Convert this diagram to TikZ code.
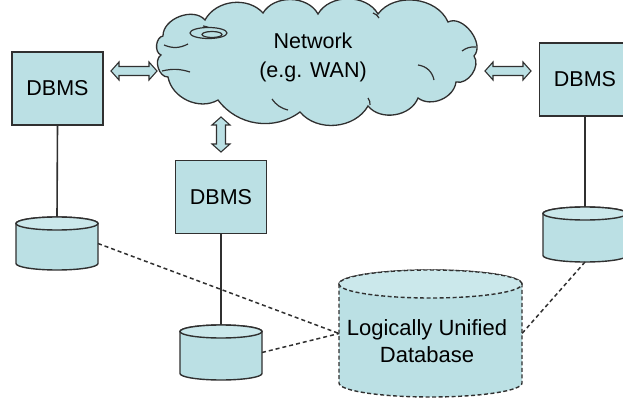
\documentclass[tikz,border=0pt]{standalone}
\usepackage{fontspec}
\setmainfont{Liberation Sans}
\definecolor{boxfill}{HTML}{BBE0E4}
\definecolor{cyltop}{HTML}{CBE8EB}
\definecolor{edge}{HTML}{303030}
\tikzset{
  dbmsbox/.style={draw=edge, line width=1.4pt, fill=boxfill, minimum width=91pt,
    minimum height=73pt, inner sep=0pt, font=\fontsize{21.5}{24}\selectfont},
  link/.style={draw=edge, line width=1.6pt},
  dashlink/.style={draw=edge, line width=1.5pt, dash pattern=on 4pt off 3pt},
  arrowbody/.style={draw=edge, line width=1.1pt, fill=boxfill, line join=miter},
  anchorbox/.style={inner sep=0pt, outer sep=0pt},
}
% cylinder: [style]{name}{cx}{cy}{x radius}{half height}{y radius}
\newcommand\dbcyl[7][]{%
  \node[anchorbox, minimum width={2*(#5)*1pt}, minimum height={2*(#6)*1pt}] (#2) at (#3,#4) {};
  \filldraw[draw=edge, line width=1.4pt, fill=boxfill, #1]
    (#3-#5,#4+#6-#7) -- (#3-#5,#4-#6+#7)
    arc[start angle=180, end angle=360, x radius=#5, y radius=#7]
    -- (#3+#5,#4+#6-#7) arc[start angle=0, end angle=180, x radius=#5, y radius=#7] -- cycle;
  \filldraw[draw=edge, line width=1.4pt, fill=cyltop, #1]
    (#3,#4+#6-#7) ellipse[x radius=#5, y radius=#7];
}
% block double arrow: {name}{cx}{cy}{half length}{rotation}
\newcommand\twoway[5]{%
  \node[anchorbox, minimum width={2*(#4)*1pt}, minimum height=18pt, rotate=#5] (#1) at (#2,#3) {};
  \begin{scope}[shift={(#2,#3)}, rotate=#5]
    \filldraw[arrowbody] (-#4,0) -- (-#4+8,9) -- (-#4+8,4.5) -- (#4-8,4.5) -- (#4-8,9)
      -- (#4,0) -- (#4-8,-9) -- (#4-8,-4.5) -- (-#4+8,-4.5) -- (-#4+8,-9) -- cycle;
  \end{scope}
}
\begin{document}
\begin{tikzpicture}[x=1pt, y=1pt]
\useasboundingbox (0,0) rectangle (623,-398);
\clip (0,0) rectangle (623,-398);

% network cloud
\filldraw[draw=edge, line width=1.3pt, fill=boxfill]
  (163,-36) to[bend left=70] (205,-20) to[bend left=55] (263,-13)
  to[bend left=60] (318,-14) to[bend left=60] (378,-14)
  to[bend left=60] (448,-22) to[bend left=80] (474,-56)
  to[bend left=70] (456,-82) to[bend left=60] (418,-98)
  to[bend left=60] (368,-106) to[bend left=55] (300,-112)
  to[bend left=45] (218,-100) to[bend left=55] (168,-77)
  to[bend left=75] (161,-55) to[bend left=75] cycle;
% creases inside the cloud
\begin{scope}[draw=edge, line width=1.2pt]
  \draw (164,-45) to[bend right=25] (188,-44);
  \draw (162,-71) to[bend left=15] (190,-72);
  \draw (203,-26) to[bend left=20] (213,-31);
  \draw (373,-13) to[bend left=20] (379,-18);
  \draw (418,-65) to[bend left=35] (434,-80);
  \draw (462,-51) to[bend left=20] (476,-47);
  \draw (272,-99) to[bend right=20] (288,-110);
  \draw (368,-98) to[bend left=20] (370,-105);
\end{scope}
\draw[edge, line width=1.2pt, fill=boxfill] (208.5,-33) ellipse[x radius=18.5, y radius=5.5];
\draw[edge, line width=1.2pt] (212,-34.5) ellipse[x radius=10, y radius=3];
\node[align=center, font=\fontsize{21.5}{29}\selectfont] (net) at (313,-57)
  {Network\\(e.g. WAN)};

% DBMS boxes
\node[dbmsbox] (b1) at (57.5,-88.5) {DBMS};
\node[dbmsbox] (b2) at (221,-197) {DBMS};
\node[dbmsbox] (b3) at (585,-79.5) {DBMS};

% double arrows to the network
\twoway{a1}{134}{-71}{23}{0}
\twoway{a3}{508}{-71}{23}{0}
\twoway{a2}{221}{-134.5}{17.5}{90}

% local databases and the logical one
\dbcyl{c1}{57}{-243.5}{41}{26.5}{6.5}
\dbcyl{c2}{221}{-352.5}{41}{27.5}{6.5}
\dbcyl{c3}{585}{-234.5}{42}{27.5}{6.5}
\dbcyl[dash pattern=on 4pt off 2.5pt]{lud}{430.5}{-333.5}{91.5}{63.5}{14}
\node[align=center, font=\fontsize{22}{27}\selectfont] (ludtext) at (427,-341)
  {Logically Unified\\Database};

% connections
\draw[link] (b1.south) -- (c1.north);
\draw[link] (b2.south) -- (c2.north);
\draw[link] (b3.south) -- (c3.north);
\draw[dashlink] (c1.east) -- (lud.west);
\draw[dashlink] (c2.east) -- (lud.west);
\draw[dashlink] (c3.south) -- (lud.east);
\end{tikzpicture}
\end{document}
